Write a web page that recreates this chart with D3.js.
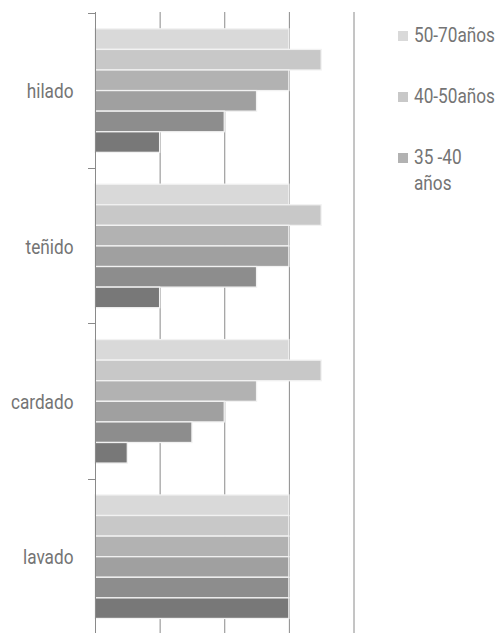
<!DOCTYPE html>
<html>
<head>
<meta charset="utf-8">
<script src="https://cdn.jsdelivr.net/npm/d3@7"></script>
<style>
  html, body { margin: 0; padding: 0; background: #fff; }
  svg { display: block; }
  text { font-family: Roboto, "DejaVu Sans", sans-serif; fill: #747474; font-size: 21px; }
</style>
</head>
<body>
<svg id="chart" width="498" height="633"></svg>
<script>
// Process stages, top to bottom
const categories = ["hilado", "teñido", "cardado", "lavado"];

// One array per age series, values in the order of the categories above
const serie1 = [3, 3, 3, 3];       // 50-70años
const serie2 = [3.5, 3.5, 3.5, 3]; // 40-50años
const serie3 = [3, 3, 2.5, 3];     // 35 -40 años
const serie4 = [2.5, 3, 2, 3];
const serie5 = [2, 2.5, 1.5, 3];
const serie6 = [1, 1, 0.5, 3];
const seriesValues = [serie1, serie2, serie3, serie4, serie5, serie6];

// Legend labels (only the first three entries fit in the legend box)
const legendLabels = [["50-70años"], ["40-50años"], ["35 -40", "años"]];

// Value gridlines
const gridTicks = [0, 1, 2, 3, 4];

const colors = ["#d9d9d9", "#c8c8c8", "#b2b2b2", "#a0a0a0", "#8d8d8d", "#787878"];

// narrow face: Roboto squeezed horizontally
const squeeze = 0.82;

const svg = d3.select("#chart");

const x = d3.scaleLinear().domain([0, 4]).range([95, 353.5]);
const y = d3.scaleBand().domain(categories).range([12.5, 634]).padding(0);
const inner = d3.scaleBand()
  .domain(d3.range(seriesValues.length))
  .range([y.bandwidth() * 0.105, y.bandwidth() * 0.9]);

// vertical gridlines
svg.append("g")
  .selectAll("line")
  .data(gridTicks.slice(1))
  .join("line")
  .attr("x1", d => x(d) + 0.5).attr("x2", d => x(d) + 0.5)
  .attr("y1", 12).attr("y2", 633)
  .attr("stroke", "#8a8a8a").attr("stroke-width", 1);

// bars
const groups = svg.append("g")
  .selectAll("g")
  .data(categories)
  .join("g")
  .attr("transform", d => `translate(0,${y(d)})`);

groups.selectAll("rect")
  .data((c, ci) => seriesValues.map((s, si) => ({ si, v: s[ci] })))
  .join("rect")
  .attr("x", x(0))
  .attr("y", d => inner(d.si))
  .attr("width", d => x(d.v) - x(0))
  .attr("height", inner.bandwidth())
  .attr("fill", d => colors[d.si])
  .attr("stroke", "#f2f2f2")
  .attr("stroke-width", 1.3);

// category axis line
svg.append("line")
  .attr("x1", x(0) + 0.5).attr("x2", x(0) + 0.5)
  .attr("y1", 12).attr("y2", 633)
  .attr("stroke", "#8a8a8a");

// category boundary tick marks
svg.append("g")
  .selectAll("line")
  .data(categories)
  .join("line")
  .attr("x1", x(0) - 7).attr("x2", x(0))
  .attr("y1", d => Math.round(y(d)) + 0.5).attr("y2", d => Math.round(y(d)) + 0.5)
  .attr("stroke", "#8a8a8a");

// category labels
svg.append("g")
  .selectAll("g")
  .data(categories)
  .join("g")
  .attr("transform", d => `translate(73.5,${y(d) + y.bandwidth() / 2 + 8}) scale(${squeeze},1)`)
  .append("text")
  .attr("text-anchor", "end")
  .text(d => d);

// legend
const legend = svg.append("g").attr("transform", "translate(398,0)");
const legendItems = legend.selectAll("g")
  .data(legendLabels)
  .join("g")
  .attr("transform", (d, i) => `translate(0,${42 + i * 61})`);

legendItems.append("rect")
  .attr("x", 0).attr("y", -11)
  .attr("width", 10).attr("height", 10)
  .attr("fill", (d, i) => colors[i]);

legendItems.append("g")
  .attr("transform", `translate(16,0) scale(${squeeze},1)`)
  .append("text")
  .selectAll("tspan")
  .data(d => d)
  .join("tspan")
  .attr("x", 0)
  .attr("y", (l, i) => i * 26)
  .text(l => l);
</script>
</body>
</html>
